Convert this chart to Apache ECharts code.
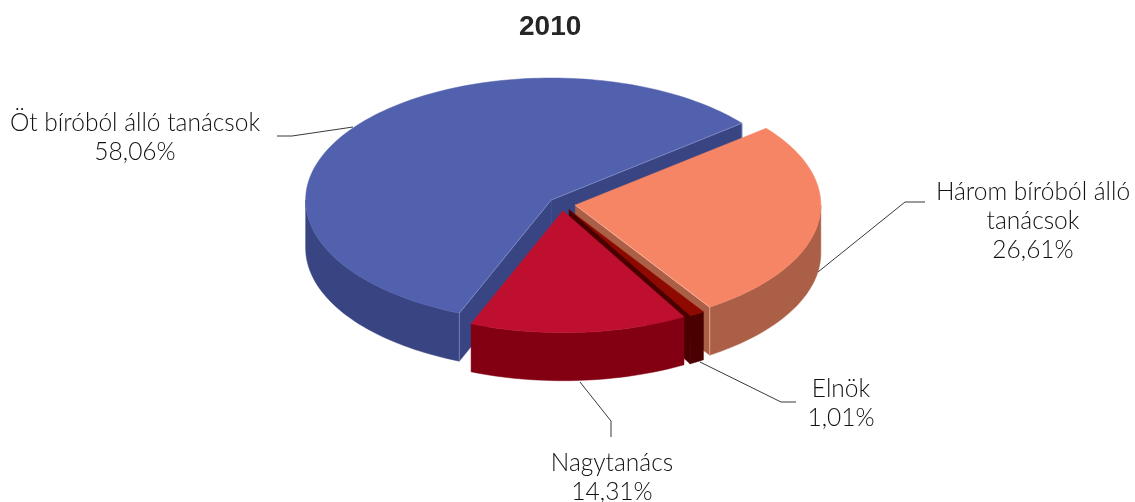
<!DOCTYPE html>
<html>
<head>
<meta charset="utf-8">
<title>2010</title>
<script src="https://cdn.jsdelivr.net/npm/echarts@6/dist/echarts.min.js"></script>
<style>
    html, body { margin: 0; padding: 0; background: #fff; }
    #main { width: 1135px; height: 502px; }
</style>
</head>
<body>
<div id="main"></div>
<script>
// Chart data, in pie order (counter-clockwise from the start angle)
const categories = ["Öt bíróból álló tanácsok", "Nagytanács", "Elnök", "Három bíróból álló\ntanácsok"];
const shares = [58.06, 14.31, 1.01, 26.61];

// Colours per slice: top face and side walls
const topColors = ["#5161ad", "#be102e", "#8e0a00", "#f68566"];
const wallColors = ["#394583", "#820012", "#4a0000", "#aa5f46"];
const edgeColors = ["#8a94c8", "#d9566c", "#4a0000", "#fbc4b2"];

// Back to front paint order (index into categories)
const paintOrder = [0, 3, 2, 1];

// Fake 3D pie geometry
const center = [562, 204];
const radiusX = 245.5;
const radiusY = 122;
const depth = 48;
const explode = 13.5;
const startAngle = 39;

// Label block centres and leader lines, same order as categories
const labelPos = [[135, 138], [612, 478], [841, 404], [1033, 221]];
const leaders = [
    [[277, 136], [292, 136], [353, 127]],
    [[580, 382], [611, 421], [611, 437]],
    [[700, 362], [781, 402], [796, 402]],
    [[925, 202], [905, 202], [818, 272]],
];

const total = shares.reduce((a, b) => a + b, 0);
const rad = (deg) => (deg * Math.PI) / 180;

// Point on the slice rim at a given pie angle
const rim = (c, deg, drop) => [
    c[0] + radiusX * Math.cos(rad(deg)),
    c[1] - radiusY * Math.sin(rad(deg)) + drop,
];

// Sampled rim between two angles
const arc = (c, from, to, drop) => {
    const pts = [];
    const steps = Math.max(2, Math.ceil(Math.abs(to - from) / 1.5));
    for (let i = 0; i <= steps; i++) {
        pts.push(rim(c, from + ((to - from) * i) / steps, drop));
    }
    return pts;
};

const polygon = (points, fill, z2) => ({
    type: "polygon",
    shape: { points },
    style: { fill, stroke: fill, lineWidth: 0.5 },
    z2,
    silent: true,
});

const line = (points, stroke, z2, lineWidth) => ({
    type: "polyline",
    shape: { points },
    style: { fill: null, stroke, lineWidth },
    z2,
    silent: true,
});

// Angles of each slice
let running = startAngle;
const spans = shares.map((v) => {
    const from = running;
    running += (v / total) * 360;
    return [from, running];
});

const renderSlice = (params, api) => {
    const i = params.dataIndex;
    const [from, to] = spans[i];
    const mid = rad((from + to) / 2);
    const base = paintOrder.indexOf(i) * 10 + 10;
    const c = [
        center[0] + explode * Math.cos(mid),
        center[1] - explode * (radiusY / radiusX) * Math.sin(mid),
    ];
    const down = [c[0], c[1] + depth];
    const children = [];

    // Leader line sits behind the pie, label is plain text
    children.push(line(leaders[i], "#222222", 1, 0.9));
    children.push({
        type: "text",
        x: labelPos[i][0],
        y: labelPos[i][1],
        z2: 100,
        silent: true,
        style: {
            text: categories[i] + "\n" + api.value(0).toFixed(2).replace(".", ",") + "%",
            font: "300 24.5px Lato",
            lineHeight: 29,
            fill: "#111111",
            align: "center",
            verticalAlign: "middle",
        },
    });

    // Outer wall: only the front half of the rim shows
    for (const [a, b] of [[from, to], [from - 360, to - 360], [from + 360, to + 360]]) {
        const lo = Math.max(a, 180);
        const hi = Math.min(b, 360);
        if (hi > lo) {
            const rimTop = arc(c, lo, hi, 0);
            const rimBottom = arc(c, lo, hi, depth).reverse();
            children.push(polygon(rimTop.concat(rimBottom), wallColors[i], base));
        }
    }

    // Cut faces that look towards the viewer
    if (Math.cos(rad(from)) > 0) {
        const p = rim(c, from, 0);
        children.push(polygon([c, p, [p[0], p[1] + depth], down], wallColors[i], base + 1));
        children.push(line([c, p, [p[0], p[1] + depth]], edgeColors[i], base + 3, 0.7));
    }
    if (Math.cos(rad(to)) < 0) {
        const p = rim(c, to, 0);
        children.push(polygon([c, p, [p[0], p[1] + depth], down], wallColors[i], base + 1));
        children.push(line([c, p, [p[0], p[1] + depth]], edgeColors[i], base + 3, 0.7));
    }

    // Top face
    children.push(polygon([c].concat(arc(c, from, to, 0)), topColors[i], base + 2));

    return { type: "group", children };
};

const chart = echarts.init(document.getElementById("main"));

chart.setOption({
    animation: false,
    title: {
        text: "2010",
        left: 514,
        top: 8,
        textStyle: { fontFamily: "Liberation Sans", fontSize: 28, fontWeight: "bold", color: "#262626" },
    },
    series: [
        {
            type: "custom",
            coordinateSystem: "none",
            renderItem: renderSlice,
            data: shares.map((v) => [v]),
        },
    ],
});
</script>
</body>
</html>
